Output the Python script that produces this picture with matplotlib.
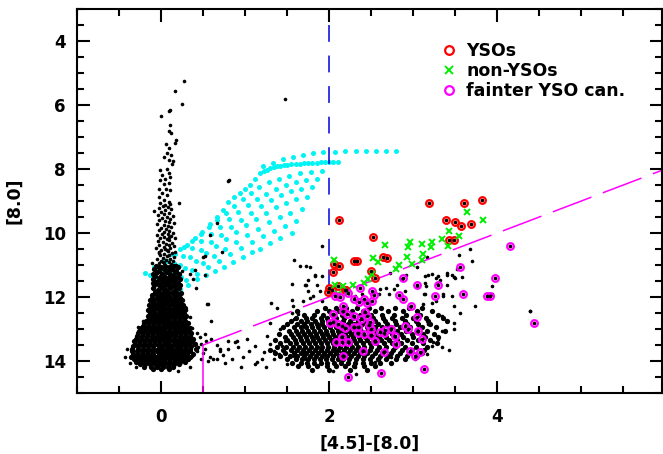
import matplotlib
matplotlib.use("Agg")
import matplotlib.pyplot as plt
from matplotlib.ticker import MultipleLocator

plt.rcParams['font.family'] = ['DejaVu Sans']
plt.rcParams['font.weight'] = 'bold'

# ---- colour-magnitude data: ([4.5]-[8.0], [8.0]) ----

# isolated sources along the upper part of the main-sequence branch and outliers
branch_top = [(0.27, 5.24), (0.16, 5.57), (0.25, 5.97), (0.10, 6.20), (0.11, 6.17), (0.00, 6.33),
              (0.11, 6.64), (0.10, 6.80), (0.12, 6.88), (0.18, 7.08), (0.06, 7.21), (0.16, 7.19),
              (0.10, 7.33), (0.07, 7.50), (0.12, 7.57), (0.04, 7.62), (0.10, 7.73), (0.14, 7.75),
              (0.13, 7.85), (-0.01, 8.02), (0.07, 7.99), (0.09, 8.14), (0.01, 8.19), (0.05, 8.30),
              (-0.01, 8.35), (0.11, 8.26), (0.03, 8.47), (0.09, 8.43), (-0.02, 8.61), (0.06, 8.61),
              (0.11, 8.66), (0.01, 8.76), (0.07, 8.81), (-0.02, 8.87), (0.03, 8.97), (0.09, 9.02),
              (-0.01, 9.07), (0.05, 9.12), (0.11, 9.09), (0.21, 9.07), (1.48, 5.80), (0.81, 8.35),
              (-0.08, 9.31), (0.80, 8.37), (0.66, 9.69), (0.58, 10.06), (0.50, 10.75), (0.52, 10.73),
              (0.73, 10.58), (0.25, 11.20), (0.35, 11.28), (0.40, 11.17), (0.52, 11.30), (0.38, 11.45),
              (-0.11, 10.94), (0.42, 11.71), (0.55, 12.23), (1.58, 10.83), (1.56, 11.58), (1.31, 12.18),
              (1.56, 12.10), (1.57, 12.28), (1.63, 12.44)]

branch_mid = [(0.02, 9.15), (0.08, 9.18), (-0.03, 9.22), (0.12, 9.25), (0.05, 9.28), (0.00, 9.33),
              (0.10, 9.36), (0.04, 9.40), (-0.04, 9.44), (0.14, 9.46), (0.07, 9.50), (0.01, 9.53),
              (0.11, 9.57), (-0.02, 9.60), (0.05, 9.63), (0.09, 9.67), (0.15, 9.70), (-0.05, 9.72),
              (0.03, 9.75), (0.08, 9.78), (0.12, 9.82), (0.00, 9.85), (0.06, 9.88), (-0.03, 9.92),
              (0.10, 9.94), (0.04, 9.97), (0.14, 9.99), (0.01, 10.02), (0.08, 10.04), (-0.05, 10.07),
              (0.12, 10.09), (0.04, 10.12), (-0.01, 10.15), (0.16, 10.17), (0.07, 10.20), (0.10, 10.23),
              (-0.04, 10.25), (0.02, 10.28), (0.13, 10.30), (0.06, 10.33), (-0.02, 10.36), (0.09, 10.38),
              (0.15, 10.41), (0.03, 10.43), (-0.06, 10.46), (0.11, 10.48), (0.05, 10.51), (0.00, 10.53),
              (0.08, 10.56), (0.17, 10.58), (-0.03, 10.60), (0.13, 10.63), (0.04, 10.65), (0.10, 10.68),
              (-0.01, 10.70), (0.07, 10.72), (0.15, 10.75), (0.02, 10.77), (-0.05, 10.80), (0.11, 10.82),
              (0.06, 10.84), (0.00, 10.87), (0.14, 10.89), (0.09, 10.91), (-0.03, 10.93), (0.04, 10.95),
              (0.12, 10.97), (0.18, 10.99), (0.07, 10.52), (0.02, 10.90), (0.10, 10.12), (-0.02, 10.62)]

# dense part of the branch, one (magnitude, colours) row at a time
branch_rows = [
    (11.03, [-0.06, 0.05, 0.15]), (11.07, [0.00, 0.10, 0.20, -0.02]),
    (11.14, [-0.08, 0.03, 0.13]), (11.18, [0.08, 0.18, -0.03, 0.06]),
    (11.23, [-0.05, 0.07, 0.16]), (11.27, [0.01, 0.11, 0.21, -0.09]),
    (11.33, [-0.07, 0.04, 0.14]), (11.37, [-0.01, 0.09, 0.19, 0.02]),
    (11.43, [-0.09, -0.03, 0.07, 0.22]), (11.47, [0.02, 0.12, 0.17]),
    (11.53, [-0.06, 0.05, 0.15]), (11.57, [0.00, 0.10, 0.20, -0.10]),
    (11.63, [-0.08, -0.02, 0.08, 0.23]), (11.67, [0.03, 0.13, 0.18]),
    (11.73, [-0.10, 0.01, 0.11, 0.21]), (11.77, [-0.04, 0.06, 0.16]),
    (11.83, [-0.07, 0.04, 0.14]), (11.87, [-0.01, 0.09, 0.19, 0.24]),
    (11.93, [-0.11, -0.05, 0.05, 0.15]), (11.97, [0.00, 0.10, 0.20]),
    (12.02, [-0.11, -0.05, 0.00, 0.06, 0.11, 0.17, 0.22]),
    (12.10, [-0.13, -0.08, -0.02, 0.03, 0.08, 0.14, 0.19, 0.25]),
    (12.18, [-0.10, -0.04, 0.01, 0.06, 0.12, 0.17, 0.23]),
    (12.26, [-0.14, -0.08, -0.03, 0.03, 0.09, 0.14, 0.20, 0.26]),
    (12.34, [-0.12, -0.06, 0.00, 0.05, 0.10, 0.16, 0.22, 0.28]),
    (12.42, [-0.15, -0.09, -0.03, 0.02, 0.08, 0.13, 0.19, 0.25]),
    (12.50, [-0.13, -0.07, -0.01, 0.05, 0.10, 0.15, 0.21, 0.27]),
    (12.58, [-0.16, -0.10, -0.04, 0.02, 0.07, 0.13, 0.18, 0.24, 0.30]),
    (12.66, [-0.14, -0.08, -0.02, 0.04, 0.10, 0.15, 0.21, 0.27]),
    (12.74, [-0.18, -0.12, -0.06, 0.00, 0.06, 0.11, 0.17, 0.23, 0.29]),
    (12.82, [-0.20, -0.14, -0.08, -0.02, 0.04, 0.09, 0.15, 0.20, 0.26, 0.32]),
    (12.90, [-0.22, -0.16, -0.10, -0.04, 0.02, 0.07, 0.13, 0.18, 0.24, 0.30]),
    (12.98, [-0.24, -0.18, -0.12, -0.06, 0.00, 0.05, 0.11, 0.16, 0.22, 0.28, 0.34]),
    (13.06, [-0.26, -0.20, -0.14, -0.08, -0.02, 0.04, 0.09, 0.15, 0.20, 0.26, 0.32]),
    (13.14, [-0.27, -0.21, -0.15, -0.10, -0.04, 0.02, 0.07, 0.13, 0.18, 0.24, 0.30, 0.36]),
    (13.22, [-0.29, -0.23, -0.17, -0.11, -0.05, 0.00, 0.06, 0.11, 0.17, 0.22, 0.28, 0.34]),
    (13.30, [-0.30, -0.24, -0.18, -0.12, -0.07, -0.01, 0.04, 0.10, 0.15, 0.21, 0.26, 0.32, 0.38]),
    (13.38, [-0.32, -0.26, -0.20, -0.14, -0.08, -0.03, 0.03, 0.08, 0.14, 0.19, 0.25, 0.31, 0.37]),
    (13.46, [-0.31, -0.25, -0.19, -0.13, -0.07, -0.01, 0.05, 0.10, 0.16, 0.21, 0.27, 0.33, 0.40]),
    (13.54, [-0.33, -0.27, -0.21, -0.15, -0.09, -0.03, 0.02, 0.08, 0.13, 0.19, 0.24, 0.30, 0.36]),
    (13.62, [-0.34, -0.28, -0.22, -0.16, -0.10, -0.04, 0.01, 0.07, 0.12, 0.18, 0.23, 0.29, 0.35, 0.41]),
    (13.70, [-0.35, -0.29, -0.23, -0.17, -0.11, -0.05, 0.00, 0.06, 0.11, 0.17, 0.22, 0.28, 0.34]),
    (13.78, [-0.33, -0.27, -0.21, -0.15, -0.09, -0.03, 0.03, 0.08, 0.14, 0.19, 0.25, 0.31, 0.38]),
    (13.86, [-0.36, -0.30, -0.24, -0.18, -0.12, -0.06, 0.00, 0.05, 0.11, 0.16, 0.22, 0.28, 0.34]),
    (13.94, [-0.32, -0.26, -0.20, -0.14, -0.08, -0.02, 0.04, 0.09, 0.15, 0.20, 0.26, 0.32]),
    (14.02, [-0.30, -0.24, -0.18, -0.12, -0.06, 0.00, 0.05, 0.11, 0.16, 0.22, 0.28]),
    (14.10, [-0.25, -0.19, -0.13, -0.07, -0.01, 0.04, 0.10, 0.15, 0.21]),
    (14.18, [-0.20, -0.12, -0.05, 0.02, 0.08, 0.14]),
    (14.26, [-0.10, 0.00, 0.09]),
]

tail_pts = [(0.31, 12.85), (0.37, 12.98), (0.43, 13.11), (0.46, 13.26), (0.52, 13.16), (0.54, 13.37),
            (0.60, 13.32), (0.48, 13.47), (0.43, 13.68), (0.37, 13.83), (0.48, 13.94), (0.58, 13.89),
            (0.62, 13.94), (0.70, 13.63), (0.80, 13.61), (0.90, 13.37), (0.56, 12.23), (0.60, 12.75),
            (1.02, 13.32), (1.12, 13.52), (1.14, 14.04), (1.22, 13.73), (1.34, 13.94), (1.44, 13.52),
            (1.48, 13.37), (1.58, 12.70), (1.63, 12.54), (1.26, 13.21), (1.30, 13.47), (1.34, 13.68),
            (1.40, 13.78), (0.91, 13.57), (0.80, 13.37), (0.70, 13.68), (0.66, 13.94), (0.56, 13.99),
            (0.98, 13.89), (1.12, 14.09), (0.88, 13.42), (1.50, 14.09), (1.58, 13.83), (1.62, 13.16),
            (1.42, 13.00), (1.30, 12.80), (1.50, 12.85), (1.56, 12.49), (1.38, 12.33), (-0.40, 13.62),
            (-0.43, 13.88), (-0.37, 14.05), (-0.30, 14.20), (0.20, 14.30), (0.35, 14.20), (-0.27, 12.95),
            (-0.22, 12.75), (0.34, 12.62), (0.30, 12.40), (0.40, 13.45), (0.44, 13.55), (0.50, 13.75),
            (0.52, 13.62), (0.66, 13.50), (0.74, 13.80), (0.76, 14.05), (0.85, 13.95), (1.05, 13.70),
            (0.95, 14.20), (1.20, 13.95), (1.25, 14.20)]

# the red (reddened / excess) cloud, row by row
cloud_rows = [
    (12.35, [1.95, 2.08, 2.20, 2.33, 2.47, 2.62, 2.78, 2.95, 3.10]),
    (12.45, [1.62, 1.85, 2.00, 2.12, 2.27, 2.40, 2.55, 2.70, 2.88, 3.05, 3.22]),
    (12.55, [1.70, 1.82, 1.93, 2.05, 2.15, 2.26, 2.37, 2.50, 2.63, 2.77, 2.92, 3.08, 3.30]),
    (12.65, [1.60, 1.72, 1.80, 1.90, 1.98, 2.08, 2.18, 2.28, 2.40, 2.52, 2.64, 2.75, 2.87, 3.00, 3.15, 3.35]),
    (12.75, [1.55, 1.66, 1.74, 1.83, 1.91, 1.99, 2.07, 2.16, 2.25, 2.34, 2.44, 2.55, 2.66, 2.78, 2.90,
             3.03, 3.18, 3.40]),
    (12.85, [1.50, 1.62, 1.70, 1.78, 1.85, 1.92, 2.00, 2.07, 2.14, 2.22, 2.30, 2.39, 2.48, 2.58, 2.69,
             2.80, 2.93, 3.06, 3.20]),
    (12.95, [1.45, 1.58, 1.66, 1.73, 1.80, 1.87, 1.94, 2.01, 2.08, 2.15, 2.22, 2.29, 2.37, 2.45, 2.54,
             2.63, 2.73, 2.84, 2.96, 3.10, 3.27]),
    (13.05, [1.52, 1.61, 1.68, 1.75, 1.82, 1.89, 1.96, 2.03, 2.10, 2.17, 2.24, 2.31, 2.38, 2.46, 2.54,
             2.62, 2.71, 2.81, 2.92, 3.04, 3.17, 3.38]),
    (13.15, [1.40, 1.55, 1.63, 1.70, 1.77, 1.84, 1.91, 1.98, 2.05, 2.12, 2.19, 2.26, 2.33, 2.40, 2.48,
             2.56, 2.65, 2.75, 2.86, 2.98, 3.12, 3.25]),
    (13.25, [1.47, 1.57, 1.65, 1.72, 1.79, 1.86, 1.93, 2.00, 2.07, 2.14, 2.21, 2.28, 2.35, 2.43, 2.51,
             2.59, 2.68, 2.77, 2.88, 3.00, 3.14, 3.30]),
    (13.35, [1.35, 1.50, 1.59, 1.67, 1.74, 1.81, 1.88, 1.95, 2.02, 2.09, 2.16, 2.23, 2.30, 2.37, 2.45,
             2.53, 2.62, 2.71, 2.81, 2.93, 3.06, 3.20]),
    (13.45, [1.42, 1.53, 1.61, 1.69, 1.76, 1.83, 1.90, 1.97, 2.04, 2.11, 2.18, 2.25, 2.32, 2.40, 2.48,
             2.56, 2.65, 2.75, 2.86, 2.98, 3.12, 3.28]),
    (13.55, [1.38, 1.49, 1.57, 1.64, 1.71, 1.78, 1.85, 1.92, 1.99, 2.06, 2.13, 2.20, 2.27, 2.34, 2.42,
             2.50, 2.59, 2.68, 2.78, 2.90, 3.03, 3.17]),
    (13.65, [1.30, 1.45, 1.55, 1.62, 1.69, 1.76, 1.83, 1.90, 1.97, 2.04, 2.11, 2.18, 2.25, 2.32, 2.40,
             2.48, 2.57, 2.66, 2.76, 2.87, 2.99, 3.13]),
    (13.75, [1.36, 1.48, 1.58, 1.66, 1.73, 1.80, 1.87, 1.94, 2.01, 2.08, 2.15, 2.22, 2.29, 2.37, 2.45,
             2.54, 2.63, 2.73, 2.84, 2.96, 3.10]),
    (13.85, [1.42, 1.53, 1.62, 1.70, 1.77, 1.84, 1.91, 1.98, 2.05, 2.12, 2.19, 2.26, 2.34, 2.42, 2.51,
             2.60, 2.70, 2.81, 2.93, 3.05]),
    (13.95, [1.50, 1.60, 1.68, 1.75, 1.82, 1.89, 1.96, 2.03, 2.10, 2.17, 2.24, 2.32, 2.40, 2.49, 2.58,
             2.68, 2.79, 2.90]),
    (14.05, [1.56, 1.66, 1.74, 1.82, 1.90, 1.98, 2.06, 2.14, 2.22, 2.31, 2.40, 2.50, 2.61, 2.73]),
    (14.15, [1.63, 1.75, 1.86, 1.97, 2.08, 2.19, 2.30, 2.42, 2.55]),
    (14.27, [1.80, 2.00, 2.25, 2.45]),
]

field_pts = [(1.91, 11.35), (1.73, 11.61), (1.83, 11.30), (1.77, 12.02), (1.69, 12.13), (1.91, 12.13),
             (3.18, 11.30), (3.40, 11.30), (3.50, 11.40), (3.40, 11.61), (3.36, 11.92), (3.22, 12.18),
             (3.14, 11.92), (3.49, 12.28), (3.74, 12.28), (3.48, 13.01), (3.34, 13.06), (3.24, 13.42),
             (3.42, 13.65), (3.34, 13.57), (4.39, 12.44), (3.94, 11.92), (2.31, 14.20), (2.59, 13.94),
             (2.73, 13.89), (1.73, 13.94), (2.55, 14.02), (3.02, 13.94), (3.16, 13.78), (3.22, 13.52),
             (3.30, 13.32), (3.12, 12.23), (3.27, 12.13), (3.56, 12.49), (3.34, 12.59), (3.48, 12.80),
             (3.18, 12.85), (3.14, 11.56), (3.28, 11.56), (3.27, 11.40), (3.52, 11.14), (3.40, 11.25),
             (3.46, 11.30), (1.91, 10.42), (3.70, 10.89), (3.67, 10.50), (3.54, 10.70), (3.16, 10.75),
             (3.04, 11.06), (2.72, 11.25), (2.92, 11.30), (3.14, 11.33), (3.22, 11.28), (3.30, 11.35),
             (3.48, 11.37), (3.58, 11.37), (3.32, 11.47), (2.87, 11.43), (2.81, 11.64), (2.77, 11.76),
             (2.68, 11.71), (2.61, 11.76), (2.90, 11.82), (3.04, 11.66), (3.13, 11.92), (3.15, 11.66),
             (1.73, 11.04), (1.77, 11.06), (1.65, 11.04), (1.83, 11.35), (1.75, 11.47), (1.71, 11.64),
             (1.85, 11.64), (1.89, 11.82), (1.75, 11.82), (1.81, 11.97), (2.31, 11.97), (2.39, 11.92),
             (2.59, 11.92), (2.71, 11.92), (3.36, 11.97), (3.46, 11.97), (3.94, 11.66), (4.39, 12.44),
             (2.32, 14.40), (2.05, 14.30)]

# model tracks (cyan)
track_x = [
    [-0.19, -0.08, 0.03, 0.13, 0.22, 0.31, 0.40, 0.49, 0.58, 0.67, 0.74, 0.80, 0.87, 0.94, 1.00, 1.06, 1.12],
    [1.18, 1.22, 1.26, 1.30, 1.34, 1.38, 1.42, 1.46, 1.50, 1.55, 1.60, 1.65, 1.70, 1.75, 1.80, 1.85, 1.90,
     1.95, 2.00, 2.05, 2.10],
    [1.21, 1.33, 1.45, 1.57, 1.69, 1.81, 1.93, 2.07, 2.19, 2.32, 2.44, 2.56, 2.68, 2.80],
    [-0.13, -0.03, 0.07, 0.17, 0.27, 0.37, 0.47, 0.57, 0.67, 0.77, 0.87, 0.97, 1.07, 1.17, 1.28, 1.40, 1.52,
     1.65, 1.78, 1.92],
    [-0.07, 0.04, 0.15, 0.26, 0.37, 0.48, 0.59, 0.70, 0.81, 0.92, 1.03, 1.14, 1.25, 1.37, 1.49, 1.61, 1.73,
     1.85],
    [-0.01, 0.11, 0.23, 0.35, 0.47, 0.59, 0.71, 0.83, 0.95, 1.07, 1.19, 1.31, 1.43, 1.55, 1.67, 1.80],
    [0.05, 0.17, 0.29, 0.41, 0.53, 0.65, 0.77, 0.89, 1.01, 1.13, 1.25, 1.37, 1.49, 1.61, 1.74],
    [0.11, 0.24, 0.37, 0.50, 0.63, 0.76, 0.89, 1.02, 1.15, 1.28, 1.41, 1.54, 1.68],
    [0.17, 0.30, 0.43, 0.56, 0.69, 0.82, 0.95, 1.08, 1.21, 1.34, 1.47, 1.60],
    [0.23, 0.32, 0.43, 0.54, 0.64, 0.75, 0.86, 0.98, 1.08, 1.18, 1.30, 1.42, 1.56],
]
track_y = [
    [11.24, 11.05, 10.85, 10.65, 10.50, 10.37, 10.15, 9.96, 9.73, 9.50, 9.27, 9.03, 8.89, 8.75, 8.62, 8.50, 8.32],
    [8.13, 8.07, 8.02, 7.98, 7.95, 7.92, 7.90, 7.88, 7.86, 7.85, 7.84, 7.83, 7.82, 7.81, 7.80, 7.80, 7.79,
     7.79, 7.78, 7.78, 7.78],
    [7.92, 7.80, 7.70, 7.62, 7.56, 7.51, 7.48, 7.46, 7.45, 7.45, 7.45, 7.45, 7.45, 7.45],
    [11.31, 11.10, 10.88, 10.67, 10.45, 10.24, 10.02, 9.80, 9.59, 9.37, 9.16, 8.95, 8.75, 8.57, 8.42, 8.30,
     8.21, 8.14, 8.09, 8.05],
    [11.39, 11.16, 10.93, 10.71, 10.48, 10.25, 10.02, 9.80, 9.57, 9.35, 9.14, 8.94, 8.77, 8.62, 8.50, 8.41,
     8.35, 8.30],
    [11.46, 11.22, 10.99, 10.75, 10.52, 10.28, 10.05, 9.81, 9.58, 9.36, 9.15, 8.97, 8.82, 8.70, 8.61, 8.55],
    [11.54, 11.32, 11.09, 10.87, 10.64, 10.42, 10.20, 9.97, 9.76, 9.55, 9.36, 9.19, 9.05, 8.94, 8.86],
    [11.61, 11.39, 11.16, 10.94, 10.72, 10.49, 10.27, 10.06, 9.86, 9.67, 9.50, 9.36, 9.25],
    [11.69, 11.48, 11.28, 11.07, 10.87, 10.67, 10.47, 10.28, 10.10, 9.93, 9.77, 9.63],
    [11.76, 11.64, 11.45, 11.30, 11.20, 11.05, 10.90, 10.74, 10.60, 10.50, 10.30, 10.15, 10.00],
]

# classified sources
yso_x = [3.19, 3.60, 3.82, 2.12, 3.39, 3.50, 3.57, 3.69, 2.52, 3.42, 3.48, 2.30, 2.33, 2.06, 2.12, 2.64,
         2.69, 2.50, 2.04, 2.54, 2.00, 2.03, 2.11, 2.19, 1.99, 2.20]
yso_y = [9.07, 9.07, 8.97, 9.59, 9.59, 9.65, 9.78, 9.72, 10.14, 10.22, 10.22, 10.88, 10.88, 10.96, 11.02,
         10.74, 10.79, 11.20, 11.21, 11.40, 11.71, 11.79, 11.66, 11.79, 11.85, 11.77]

nyso_x = [3.64, 3.83, 3.43, 3.55, 3.34, 3.22, 3.41, 2.96, 3.10, 2.94, 3.21, 2.66, 3.12, 2.93, 2.52, 2.58,
          3.10, 2.98, 2.83, 2.79, 2.06, 2.51, 2.46, 2.41, 2.07, 2.17, 2.28, 2.11, 2.21]
nyso_y = [9.35, 9.59, 9.95, 10.09, 10.19, 10.29, 10.40, 10.29, 10.35, 10.44, 10.44, 10.39, 10.65, 10.76,
          10.78, 10.90, 10.85, 10.97, 11.01, 11.14, 10.85, 11.27, 11.45, 11.56, 11.61, 11.66, 11.61, 11.92,
          11.87]

faint_x = [2.88, 3.04, 3.29, 3.97, 3.59, 3.88, 3.91, 3.26, 2.83, 2.88, 2.07, 2.13, 2.23, 2.37, 2.41, 2.51,
           2.53, 2.45, 2.51, 2.35, 2.29, 2.16, 2.17, 2.21, 2.05, 2.29, 2.43, 2.45, 2.38, 2.49, 2.47, 2.05,
           2.01, 2.11, 2.15, 2.19, 2.30, 2.34, 2.50, 2.34, 2.41, 2.50, 2.60, 2.67, 2.65, 2.74, 2.78, 2.55,
           2.79, 2.90, 2.94, 3.06, 3.10, 3.04, 2.97, 2.08, 2.15, 2.15, 2.22, 2.40, 2.65, 2.96, 3.08, 3.02,
           2.17, 3.13, 2.22, 2.62, 4.15, 4.44, 3.56]
faint_y = [11.40, 11.64, 11.64, 11.42, 11.92, 11.97, 11.97, 11.97, 11.95, 12.05, 11.97, 11.99, 11.87, 11.71,
           12.05, 11.82, 11.95, 12.18, 12.13, 12.16, 12.05, 12.28, 12.44, 12.54, 12.54, 12.59, 12.47, 12.59,
           12.70, 12.78, 12.88, 12.78, 12.82, 12.85, 12.92, 12.98, 12.95, 12.95, 13.01, 13.14, 13.16, 13.19,
           13.09, 13.04, 13.14, 13.01, 13.21, 13.37, 13.47, 12.90, 13.01, 13.06, 13.30, 12.62, 12.28, 13.42,
           13.26, 13.40, 13.40, 13.68, 13.71, 13.68, 13.71, 13.83, 13.83, 14.25, 14.51, 14.37, 10.42, 12.80,
           11.06]

# selection cuts
color_cut = 2.0        # [4.5]-[8.0] > 2
cut_start = 0.5        # faint limit line: [8.0] = 14 - ([4.5]-[8.0]) for colours > 0.5
cut_zero = 14.0
x_min, x_max = -1.0, 5.96
y_faint, y_bright = 15.0, 3.0


def unpack(pairs):
    return [p[0] for p in pairs], [p[1] for p in pairs]


def expand(rows):
    xs, ys = [], []
    for y, row in rows:
        xs += row
        ys += [y] * len(row)
    return xs, ys


fig = plt.figure(figsize=(6.63, 4.54), dpi=100)
ax = fig.add_axes([77 / 663, 61 / 454, 585 / 663, 384 / 454])

dot = dict(ls='none', marker='o', ms=2.6, color='black', mew=0)
dense_dot = dict(ls='none', marker='o', ms=3.8, color='black', mew=0)

for tx, ty in zip(track_x, track_y):
    ax.plot(tx, ty, ls='none', marker='o', ms=3.6, color='#00F4F4', mew=0)

for group in (branch_top, branch_mid, tail_pts, field_pts):
    gx, gy = unpack(group)
    ax.plot(gx, gy, **dot)
for rows in (branch_rows, cloud_rows):
    gx, gy = expand(rows)
    ax.plot(gx, gy, **dense_dot)

# selection lines
ax.plot([color_cut, color_cut], [y_bright + 0.5, cut_zero - color_cut], color='#0000E0', lw=1.1,
        dashes=(11, 9))
ax.plot([cut_start, x_max], [cut_zero - cut_start, cut_zero - x_max], color='magenta', lw=1.1,
        dashes=(27, 8))
ax.plot([cut_start, cut_start], [cut_zero - cut_start, y_faint], color='magenta', lw=1.1)

ax.plot(yso_x, yso_y, ls='none', marker='o', ms=4.8, mfc='none', mec='red', mew=1.6, label='YSOs')
ax.plot(nyso_x, nyso_y, ls='none', marker='x', ms=4.8, color='#00EE00', mew=1.4, label='non-YSOs')
ax.plot(faint_x, faint_y, ls='none', marker='o', ms=4.8, mfc='none', mec='magenta', mew=1.6,
        label='fainter YSO can.')
ax.plot(yso_x, yso_y, **dot)
ax.plot(faint_x, faint_y, **dot)

ax.set_xlim(x_min, x_max)
ax.set_ylim(y_faint, y_bright)
ax.set_xticks([0, 2, 4])
ax.set_yticks([4, 6, 8, 10, 12, 14])
ax.xaxis.set_minor_locator(MultipleLocator(0.5))
ax.yaxis.set_minor_locator(MultipleLocator(0.5))
ax.tick_params(which='both', direction='in', top=True, right=True, width=1.5, labelsize=12)
ax.tick_params(which='major', length=9)
ax.tick_params(which='minor', length=5)
ax.tick_params(axis='x', pad=11)
ax.tick_params(axis='y', pad=8)
for s in ax.spines.values():
    s.set_linewidth(1.5)

ax.set_xlabel('[4.5]-[8.0]', fontsize=12.5, fontweight='bold', labelpad=6)
ax.set_ylabel('[8.0]', fontsize=12.5, fontweight='bold', labelpad=14)

leg = ax.legend(loc='upper left', bbox_to_anchor=(0.624, 0.915), frameon=False, fontsize=12.5,
                handlelength=0.8, handletextpad=0.6, labelspacing=0.12, borderpad=0,
                borderaxespad=0, markerscale=1.3)

fig.savefig('out.png', dpi=100)
